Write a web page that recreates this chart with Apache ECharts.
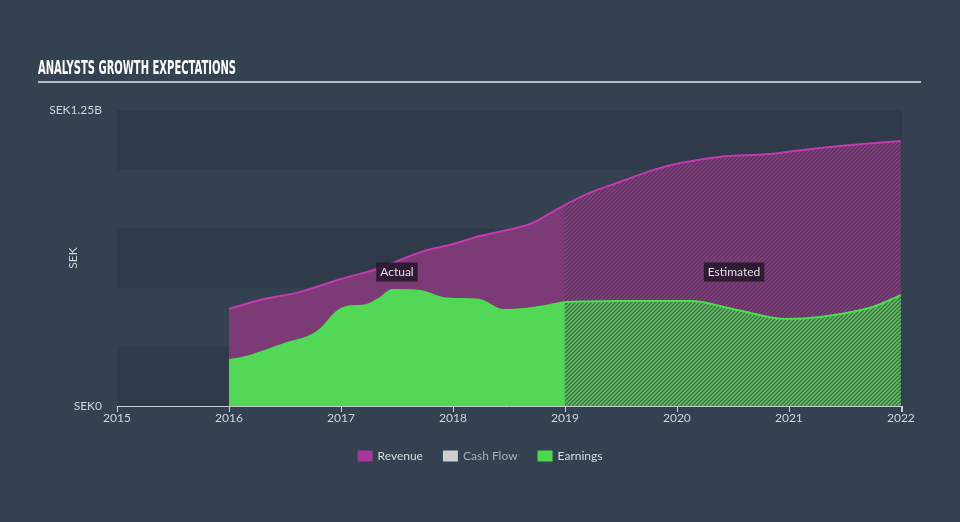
<!DOCTYPE html>
<html>
<head>
<meta charset="utf-8">
<script src="https://cdn.jsdelivr.net/npm/echarts@6/dist/echarts.min.js"></script>
<style>
html,body{margin:0;padding:0;background:#344150;}
#chart{width:960px;height:522px;}
</style>
</head>
<body>
<div id="chart"></div>
<script>
// Data (years as decimals, values in SEK billions)
var xTicks = [2015, 2016, 2017, 2018, 2019, 2020, 2021, 2022];
var yTickLabels = ['SEK0', 'SEK1.25B'];

var revenueActualX = [2016.0, 2016.28, 2016.63, 2017.0, 2017.35, 2017.71, 2018.0, 2018.24, 2018.49, 2018.71, 2018.87, 2019.0];
var revenueActualY = [0.410, 0.448, 0.481, 0.536, 0.583, 0.650, 0.684, 0.718, 0.743, 0.773, 0.815, 0.849];
var revenueEstX = [2019.0, 2019.22, 2019.49, 2019.76, 2020.03, 2020.38, 2020.83, 2021.28, 2022.0];
var revenueEstY = [0.849, 0.900, 0.946, 0.992, 1.026, 1.052, 1.064, 1.090, 1.119];

var earningsActualX = [2016.0, 2016.21, 2016.52, 2016.70, 2016.81, 2016.96, 2017.05, 2017.23, 2017.35, 2017.46, 2017.71, 2017.91, 2018.24, 2018.45, 2018.71, 2019.0];
var earningsActualY = [0.194, 0.215, 0.266, 0.291, 0.321, 0.397, 0.418, 0.427, 0.456, 0.490, 0.486, 0.456, 0.448, 0.405, 0.414, 0.439];
var earningsEstX = [2019.0, 2019.49, 2020.12, 2020.54, 2020.98, 2021.28, 2021.72, 2022.0];
var earningsEstY = [0.439, 0.443, 0.443, 0.405, 0.367, 0.376, 0.414, 0.469];

var actualLabelPos = [2017.5, 0.566];
var estimatedLabelPos = [2020.51, 0.566];

function zip(xs, ys){ return xs.map(function(x,i){ return [x, ys[i]]; }); }

function hatch(bg, fg){
  var c = document.createElement('canvas');
  c.width = 4; c.height = 4;
  var g = c.getContext('2d');
  g.fillStyle = bg; g.fillRect(0,0,4,4);
  g.strokeStyle = fg; g.lineWidth = 1.4;
  g.beginPath();
  g.moveTo(-1, 5); g.lineTo(5, -1);
  g.moveTo(-1, 1); g.lineTo(1, -1);
  g.moveTo(3, 5); g.lineTo(5, 3);
  g.stroke();
  return {image: c, repeat: 'repeat'};
}

var revColor = '#7c3a77';
var revLine = '#c33bb0';
var earnColor = '#52d757';
var earnLine = '#47e04c';
var font = 'Lato, "Open Sans", sans-serif';
var titleFont = 'bold 19px "DejaVu Sans Condensed", "Liberation Sans Narrow", sans-serif';
var titleText = 'ANALYSTS GROWTH EXPECTATIONS';

// fit title to its reference width
var mc = document.createElement('canvas').getContext('2d');
mc.font = titleFont;
var titleScale = 198 / mc.measureText(titleText).width;

var chart = echarts.init(document.getElementById('chart'), null, {renderer: 'canvas'});

var labelStyle = {
  show: true, color: '#e6dde6', fontSize: 12, fontFamily: font,
  backgroundColor: 'rgba(35,22,40,0.85)', padding: [4, 4, 3, 4]
};

chart.setOption({
  backgroundColor: '#344150',
  animation: false,
  graphic: [
    {
      type: 'text', x: 38, y: 60, scaleX: titleScale, silent: true,
      style: {text: titleText, font: titleFont, fill: '#ffffff'}
    },
    {
      type: 'rect', shape: {x: 38, y: 81, width: 883, height: 2},
      style: {fill: '#b9c0c8'}, silent: true
    },
    {
      type: 'text', x: 73, y: 258, rotation: Math.PI / 2, silent: true,
      style: {text: 'SEK', fill: '#d0d5da', font: '12px ' + font, align: 'center', verticalAlign: 'middle'}
    }
  ],
  legend: {
    bottom: 55, left: 'center', itemWidth: 15, itemHeight: 11, itemGap: 20,
    icon: 'rect',
    textStyle: {color: '#d8dde2', fontSize: 12, fontFamily: font},
    data: [
      {name: 'Revenue', itemStyle: {color: '#a8379c'}},
      {name: 'Cash Flow', itemStyle: {color: '#cfcfcf'}, textStyle: {color: '#a9b0b8'}},
      {name: 'Earnings', itemStyle: {color: '#4ed84f'}}
    ]
  },
  grid: {left: 117, right: 58, top: 110, bottom: 116},
  xAxis: {
    type: 'value', min: 2015, max: 2022.01, interval: 1,
    axisLine: {show: true, lineStyle: {color: '#c8ced6', width: 1}},
    axisTick: {show: true, length: 6, lineStyle: {color: '#c8ced6'}},
    splitLine: {show: false},
    axisLabel: {color: '#d0d5da', fontSize: 12, fontFamily: font, margin: 6,
      formatter: function(v){ return xTicks.indexOf(Math.round(v)) >= 0 && Math.abs(v - Math.round(v)) < 0.001 ? String(Math.round(v)) : ''; }}
  },
  yAxis: {
    type: 'value', min: 0, max: 1.25, interval: 0.25,
    axisLine: {show: false}, axisTick: {show: false},
    splitLine: {show: false},
    splitArea: {show: true, areaStyle: {color: ['#2f3b4a', '#344150']}},
    axisLabel: {color: '#d0d5da', fontSize: 12, fontFamily: font, margin: 15,
      formatter: function(v){ if (v === 0) return yTickLabels[0]; if (Math.abs(v - 1.25) < 1e-6) return yTickLabels[1]; return ''; }}
  },
  series: [
    {
      name: 'Revenue', type: 'line', smooth: 0.35, symbol: 'none',
      data: zip(revenueActualX, revenueActualY),
      lineStyle: {color: revLine, width: 2},
      itemStyle: {color: '#a8379c'},
      areaStyle: {color: revColor, opacity: 1, origin: 'start'},
      z: 2,
      markPoint: {
        symbol: 'rect', symbolSize: 0, silent: true,
        label: Object.assign({formatter: 'Actual', position: 'inside'}, labelStyle),
        data: [{coord: actualLabelPos}]
      }
    },
    {
      name: 'Revenue', type: 'line', smooth: 0.35, symbol: 'none',
      data: zip(revenueEstX, revenueEstY),
      lineStyle: {color: revLine, width: 2},
      itemStyle: {color: '#a8379c'},
      areaStyle: {color: hatch('#58345d', '#8a4183'), opacity: 1, origin: 'start'},
      z: 2,
      markPoint: {
        symbol: 'rect', symbolSize: 0, silent: true,
        label: Object.assign({formatter: 'Estimated', position: 'inside'}, labelStyle),
        data: [{coord: estimatedLabelPos}]
      }
    },
    {
      name: 'Cash Flow', type: 'line', data: [], itemStyle: {color: '#cfcfcf'}
    },
    {
      name: 'Earnings', type: 'line', smooth: 0.35, symbol: 'none',
      data: zip(earningsActualX, earningsActualY),
      lineStyle: {color: earnLine, width: 2},
      itemStyle: {color: '#4ed84f'},
      areaStyle: {color: earnColor, opacity: 1, origin: 'start'},
      z: 3
    },
    {
      name: 'Earnings', type: 'line', smooth: 0.35, symbol: 'none',
      data: zip(earningsEstX, earningsEstY),
      lineStyle: {color: earnLine, width: 2},
      itemStyle: {color: '#4ed84f'},
      areaStyle: {color: hatch('#3f6e48', '#62c763'), opacity: 1, origin: 'start'},
      z: 3
    }
  ]
});
</script>
</body>
</html>
